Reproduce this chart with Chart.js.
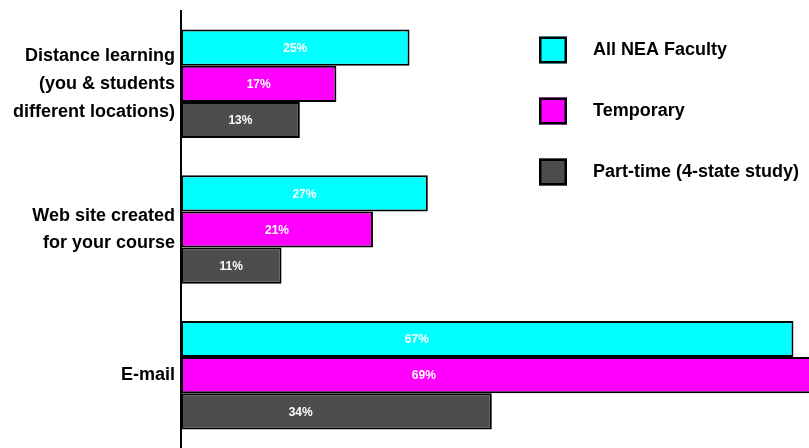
<!DOCTYPE html>
<html><head><meta charset="utf-8">
<script src="https://cdn.jsdelivr.net/npm/chart.js@4.4.1/dist/chart.umd.min.js"></script>
<style>html,body{margin:0;padding:0;background:#fff}#wrap{width:809px;height:448px;position:relative}</style>
</head><body><div id="wrap"><canvas id="c"></canvas></div>
<script>
const categories = [["Distance learning","(you & students","different locations)"],["Web site created","for your course"],["E-mail"]];
const seriesNames = ["All NEA Faculty","Temporary","Part-time (4-state study)"];
const allNeaFaculty = [25,27,67];
const temporary = [17,21,69];
const partTime = [13,11,34];
const colors = ["#00FFFF","#FF00FF","#4D4D4D"];

const FONT = "'Liberation Sans', Arial, sans-serif";
// where inside each bar the value label sits (fraction of bar length), per category
const labelAnchor = [0.5, 0.5, 0.385];

const valueLabels = {
  id: 'valueLabels',
  afterDatasetsDraw(chart) {
    const ctx = chart.ctx;
    ctx.save();
    ctx.fillStyle = '#fff';
    ctx.font = 'bold 12px ' + FONT;
    ctx.textAlign = 'center';
    ctx.textBaseline = 'middle';
    chart.data.datasets.forEach((ds, di) => {
      const meta = chart.getDatasetMeta(di);
      meta.data.forEach((el, i) => {
        const f = labelAnchor[i];
        const x = el.base + (el.x - el.base) * f;
        ctx.fillText(ds.data[i] + '%', x, el.y + 1);
      });
    });
    ctx.restore();
  }
};

const boxLegend = {
  id: 'boxLegend',
  afterDraw(chart) {
    const ctx = chart.ctx;
    ctx.save();
    ctx.font = 'bold 18px ' + FONT;
    ctx.textBaseline = 'middle';
    ctx.textAlign = 'left';
    chart.data.datasets.forEach((ds, i) => {
      const cy = 50 + i * 61;
      ctx.fillStyle = ds.backgroundColor;
      ctx.fillRect(539, cy - 13.5, 28, 27);
      ctx.lineWidth = 2.5;
      ctx.strokeStyle = '#000';
      ctx.strokeRect(540.25, cy - 12.25, 25.5, 24.5);
      ctx.fillStyle = '#000';
      ctx.fillText(ds.label, 593, cy);
    });
    ctx.restore();
  }
};

const datasets = [allNeaFaculty, temporary, partTime].map((d, i) => ({
  label: seriesNames[i],
  data: d,
  backgroundColor: colors[i],
  borderColor: '#000',
  borderWidth: 2,
  borderSkipped: false,
  barPercentage: 1,
  categoryPercentage: 0.745
}));

new Chart(document.getElementById('c'), {
  type: 'bar',
  data: { labels: categories, datasets },
  options: {
    indexAxis: 'y',
    responsive: true,
    maintainAspectRatio: false,
    animation: false,
    layout: { padding: { top: 11, bottom: 0, left: 0, right: 0 } },
    plugins: { legend: { display: false }, tooltip: { enabled: false } },
    scales: {
      x: { display: false, min: 0, max: 68.7 },
      y: {
        grid: { display: false, drawTicks: false },
        border: { display: true, color: '#000', width: 2 },
        ticks: {
          color: '#000',
          padding: 6,
          font: { family: FONT, size: 18, weight: 'bold', lineHeight: 1.55 }
        },
        afterFit(scale) {
          scale.width = 181;
          scale.paddingTop = 0;
          scale.paddingBottom = 0;
        }
      }
    }
  },
  plugins: [valueLabels, boxLegend]
});
</script>
</body></html>
